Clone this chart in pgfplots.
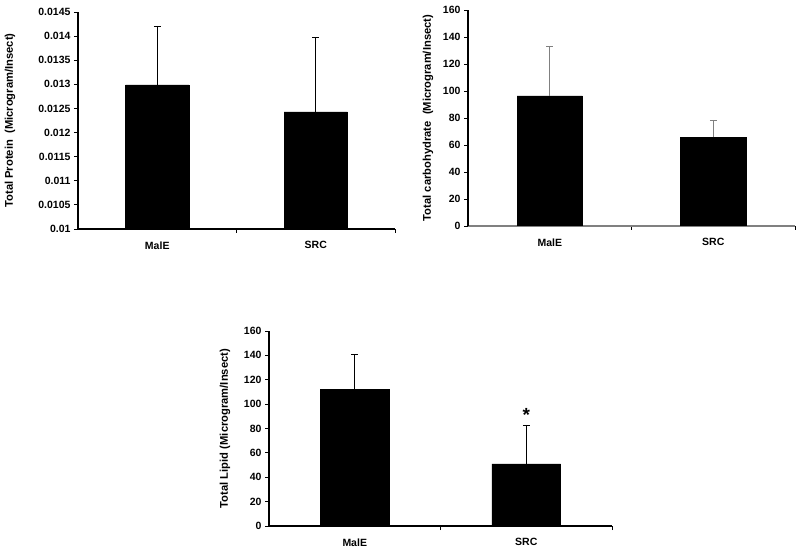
\documentclass[border=0pt]{standalone}
\usepackage{pgfplots}
\pgfplotsset{compat=1.18}
\usepackage{fontspec}
\setmainfont{Liberation Sans}

\pgfplotsset{
  panel/.style={
    scale only axis,
    axis x line=bottom, axis y line=left,
    axis line style={-, line width=1.3pt},
    xmin=0, xmax=2,
    xtick={0.5,1.5},
    xticklabels={MalE,SRC},
    major x tick style={draw=none},
    minor xtick={1,2},
    minor x tick style={black, line width=0.9pt},
    minor tick length=4pt,
    major tick length=4pt,
    tick align=outside,
    ytick style={black, line width=0.9pt},
    scaled y ticks=false,
    /pgf/number format/assume math mode=true,
    ticklabel style={font=\fontsize{10.5}{12}\selectfont\bfseries},
    xticklabel style={yshift=-5pt},
    label style={font=\fontsize{11.2}{13}\selectfont\bfseries},
    ybar, bar width=0.4,
  },
  barstyle/.style={
    fill=black, draw=black,
    error bars/.cd, y dir=plus, y explicit,
    error bar style={line width=0.6pt, #1},
    error mark options={rotate=90, line width=0.6pt, mark size=3.5pt, #1},
  },
  barstyle/.default=black,
}

\begin{document}
\begin{tikzpicture}
\path[use as bounding box] (0,0) rectangle (800pt,554pt);

% protein
\begin{axis}[panel,
  at={(78pt,325pt)}, width=317pt, height=217pt,
  ymin=0.01, ymax=0.0145,
  ytick={0.01,0.0105,0.011,0.0115,0.012,0.0125,0.013,0.0135,0.014,0.0145},
  yticklabels={0.01,0.0105,0.011,0.0115,0.012,0.0125,0.013,0.0135,0.014,0.0145},
  ylabel={Total Protein\ \ (Microgram/Insect)},
  ylabel style={at={(axis description cs:-0.2145,0.5)}, anchor=center},
]
\addplot[barstyle] coordinates {(0.5,0.01299) +- (0,0.00122) (1.5,0.01243) +- (0,0.00155)};
\end{axis}

% carbohydrate
\begin{axis}[panel,
  at={(468pt,328pt)}, width=327pt, height=216pt,
  ymin=0, ymax=160,
  ytick={0,20,...,160},
  x axis line style={gray},
  ylabel={Total carbohydrate\ \ (Microgram/Insect)},
  ylabel style={at={(axis description cs:-0.122,0.5)}, anchor=center},
]
\addplot[barstyle=gray] coordinates {(0.5,96.3) +- (0,37.0) (1.5,65.9) +- (0,12.6)};
\end{axis}

% lipid
\begin{axis}[panel,
  at={(269pt,28pt)}, width=343pt, height=195pt,
  ymin=0, ymax=160, clip=false,
  ytick={0,20,...,160},
  ylabel={Total Lipid (Microgram/Insect)},
  ylabel style={at={(axis description cs:-0.128,0.5)}, anchor=center},
]
\addplot[barstyle] coordinates {(0.5,112.4) +- (0,28.7) (1.5,50.9) +- (0,32.0)};
\node[font=\fontsize{19}{19}\selectfont\bfseries, anchor=north, inner sep=0pt] at (axis cs:1.5,97) {*};
\end{axis}
\end{tikzpicture}
\end{document}
